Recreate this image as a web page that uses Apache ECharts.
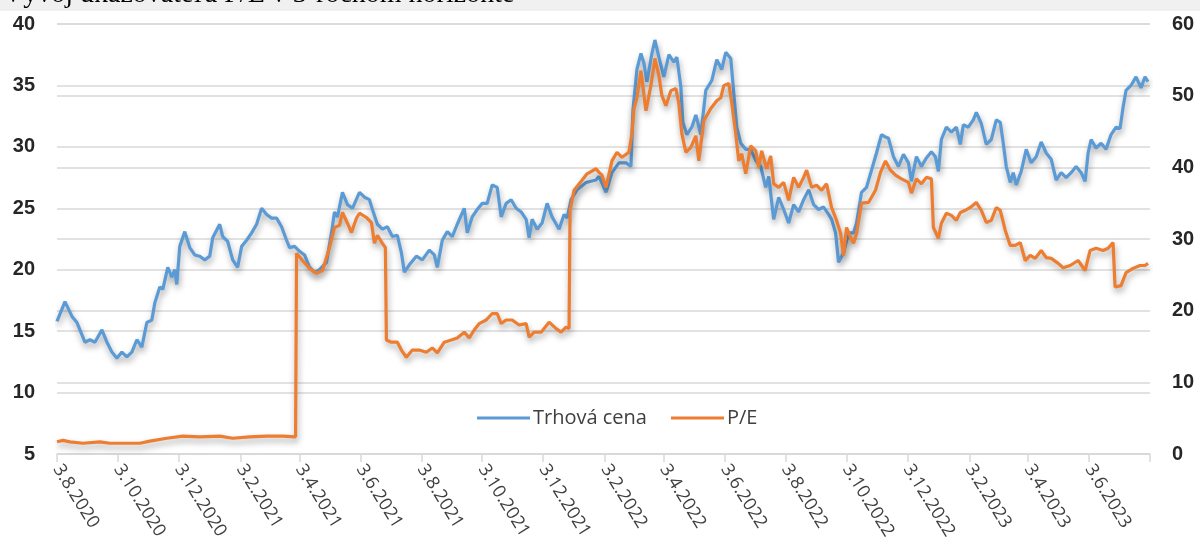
<!DOCTYPE html>
<html>
<head>
<meta charset="utf-8">
<script src="https://cdn.jsdelivr.net/npm/echarts@6/dist/echarts.min.js"></script>
<style>
  html, body { margin: 0; padding: 0; background: #fff; }
  #main { width: 1200px; height: 560px; }
</style>
</head>
<body>
<div id="main"></div>
<script>
// dni od 3.8.2020
var priceDays = [
  0, 8, 15, 20, 28, 33, 38, 45, 50, 55, 60, 65, 70, 75, 80, 85, 90, 95, 98, 103,
  106, 111, 115, 118, 120, 123, 128, 133, 138, 143, 148, 153, 156, 163, 166, 171, 176, 181, 185, 190,
  195, 200, 205, 210, 215, 220, 225, 230, 233, 238, 243, 248, 253, 258, 263, 270, 275, 278, 281, 286,
  291, 296, 303, 308, 313, 316, 321, 326, 331, 336, 341, 345, 348, 353, 360, 366, 373, 378, 381, 386,
  391, 396, 401, 408, 411, 416, 421, 426, 431, 436, 441, 445, 450, 455, 460, 465, 470, 473, 476, 481,
  486, 491, 496, 503, 508, 511, 515, 521, 530, 540, 543, 550, 556, 563, 570, 575, 577, 581, 585, 588,
  591, 596, 599, 603, 608, 613, 618, 621, 625, 627, 631, 636, 640, 645, 650, 656, 661, 666, 670, 675,
  678, 681, 685, 690, 695, 700, 705, 710, 713, 718, 723, 728, 733, 738, 743, 748, 753, 758, 763, 768,
  773, 776, 780, 783, 788, 793, 798, 801, 806, 811, 816, 821, 826, 830, 833, 838, 843, 848, 853, 856,
  861, 866, 871, 876, 880, 883, 886, 891, 896, 901, 905, 908, 913, 918, 921, 926, 931, 936, 941, 945,
  948, 951, 955, 958, 961, 966, 971, 976, 981, 986, 991, 996, 1001, 1006, 1011, 1016, 1021, 1026, 1030, 1033,
  1036, 1041, 1046, 1051, 1056, 1061, 1065, 1068, 1071, 1076, 1081, 1086, 1090, 1093
];
var price = [
  15.8, 17.4, 16.2, 15.7, 14.1, 14.3, 14.1, 15.1, 14.1, 13.3, 12.8, 13.3, 12.9, 13.3, 14.3, 13.7, 15.7, 15.9, 17.3, 18.6,
  18.4, 20.2, 19.4, 20.0, 18.8, 21.9, 23.1, 21.8, 21.2, 21.1, 20.8, 21.1, 22.6, 23.7, 22.7, 22.3, 20.8, 20.2, 21.9, 22.4,
  23.0, 23.7, 25.0, 24.5, 24.2, 24.2, 23.5, 22.4, 21.8, 21.9, 21.5, 21.2, 20.2, 19.8, 20.0, 20.6, 23.0, 24.7, 24.3, 26.3,
  25.3, 25.0, 26.3, 25.9, 25.7, 24.9, 23.7, 23.3, 23.5, 22.7, 22.8, 21.4, 19.8, 20.4, 21.1, 20.8, 21.6, 21.2, 20.2, 22.4,
  23.1, 22.7, 23.7, 25.0, 23.0, 24.3, 24.9, 25.4, 25.4, 26.9, 26.7, 24.3, 25.4, 25.7, 25.0, 24.7, 24.1, 22.6, 24.1, 23.3,
  23.8, 25.4, 24.3, 23.3, 24.5, 24.2, 25.7, 26.5, 27.1, 27.3, 27.6, 26.3, 27.9, 28.7, 28.7, 28.4, 33.0, 36.3, 37.6, 36.8,
  35.3, 37.6, 38.7, 37.3, 35.7, 37.5, 36.9, 37.3, 34.9, 32.0, 31.0, 31.6, 32.6, 31.0, 34.6, 35.4, 37.1, 36.3, 37.7, 37.2,
  34.4, 31.6, 30.3, 29.8, 29.8, 28.9, 28.4, 26.7, 27.6, 24.1, 25.9, 24.9, 23.8, 25.3, 24.7, 25.7, 26.5, 25.3, 24.9, 25.1,
  24.5, 24.1, 23.0, 20.6, 21.4, 23.0, 23.0, 23.8, 26.3, 26.7, 28.1, 29.5, 31.0, 30.8, 30.7, 29.2, 28.4, 29.4, 28.7, 27.2,
  29.2, 28.4, 29.1, 29.6, 29.2, 28.0, 30.6, 31.6, 31.2, 31.6, 30.2, 31.8, 31.6, 32.2, 32.8, 31.9, 30.2, 30.6, 32.2, 32.0,
  30.3, 28.4, 27.1, 27.9, 26.9, 28.0, 29.8, 28.7, 29.2, 30.4, 29.5, 29.0, 27.3, 27.9, 27.5, 27.9, 28.4, 27.9, 27.2, 29.5,
  30.6, 29.9, 30.3, 29.8, 31.0, 31.6, 31.5, 33.2, 34.6, 35.0, 35.7, 34.8, 35.7, 35.3
];

var peDays = [
  0, 6, 13, 26, 43, 53, 83, 93, 110, 126, 143, 163, 176, 193, 210, 226, 239, 240, 246, 253,
  260, 266, 273, 278, 283, 286, 291, 295, 300, 303, 310, 315, 318, 321, 326, 329, 330, 335, 341, 345,
  350, 356, 363, 370, 376, 381, 388, 395, 401, 408, 413, 418, 423, 430, 436, 441, 445, 450, 456, 463,
  470, 473, 478, 485, 493, 500, 505, 510, 513, 514, 518, 526, 531, 540, 543, 546, 550, 556, 561, 566,
  573, 576, 578, 581, 585, 590, 595, 599, 603, 606, 610, 615, 620, 623, 626, 630, 635, 640, 643, 648,
  655, 661, 665, 668, 673, 676, 680, 683, 686, 690, 695, 700, 703, 706, 711, 715, 718, 723, 728, 733,
  738, 743, 748, 751, 756, 761, 766, 771, 776, 781, 785, 788, 791, 795, 798, 801, 806, 813, 820, 825,
  830, 835, 840, 846, 853, 856, 861, 866, 871, 876, 878, 883, 886, 891, 896, 901, 905, 910, 915, 921,
  926, 931, 936, 941, 945, 950, 955, 960, 965, 970, 975, 980, 986, 991, 996, 1003, 1008, 1015, 1023, 1030,
  1035, 1041, 1048, 1053, 1058, 1060, 1066, 1071, 1078, 1085, 1090, 1093
];
var pe = [
  1.7, 1.9, 1.7, 1.5, 1.7, 1.5, 1.5, 1.8, 2.2, 2.5, 2.4, 2.5, 2.2, 2.4, 2.5, 2.5, 2.4, 28.0, 27.0, 25.9,
  25.2, 25.6, 28.8, 31.6, 31.9, 33.7, 32.2, 30.9, 32.9, 33.6, 33.0, 32.3, 29.4, 30.5, 29.4, 28.8, 15.9, 15.6, 15.6, 14.5,
  13.5, 14.5, 14.5, 14.2, 14.8, 14.1, 15.6, 15.9, 16.2, 17.0, 16.2, 17.3, 18.2, 18.7, 19.6, 19.6, 18.2, 18.7, 18.7, 18.0,
  18.2, 16.3, 17.0, 17.0, 18.4, 17.5, 17.0, 17.7, 17.5, 34.0, 36.8, 38.2, 39.1, 39.8, 39.3, 38.9, 37.2, 40.9, 42.1, 41.4,
  42.1, 44.7, 48.2, 49.7, 53.5, 47.9, 51.4, 55.2, 52.8, 50.0, 48.6, 50.7, 51.0, 48.9, 44.7, 42.1, 42.8, 44.4, 40.9, 46.5,
  48.2, 49.3, 49.7, 51.4, 51.7, 49.0, 44.7, 40.9, 41.9, 39.1, 43.0, 42.3, 40.0, 42.3, 39.8, 41.6, 37.7, 37.2, 37.9, 35.4,
  38.6, 37.2, 38.6, 39.6, 37.2, 37.5, 36.8, 37.7, 34.4, 32.6, 30.8, 27.7, 31.6, 30.2, 29.4, 30.8, 35.0, 35.1, 36.8, 39.3,
  40.9, 39.6, 38.9, 38.4, 37.9, 36.4, 38.4, 37.7, 38.6, 38.4, 31.6, 30.1, 32.2, 33.6, 33.3, 32.6, 33.7, 34.0, 34.4, 35.1,
  34.0, 32.3, 32.6, 34.4, 34.0, 31.2, 29.1, 29.1, 29.5, 27.0, 27.7, 27.3, 28.4, 27.4, 27.3, 26.6, 26.0, 26.3, 27.0, 25.6,
  28.4, 28.7, 28.4, 28.7, 29.5, 23.3, 23.5, 25.3, 25.9, 26.3, 26.3, 26.6
];

var tickLabels = [
  '3.8.2020', '3.10.2020', '3.12.2020', '3.2.2021', '3.4.2021', '3.6.2021',
  '3.8.2021', '3.10.2021', '3.12.2021', '3.2.2022', '3.4.2022', '3.6.2022',
  '3.8.2022', '3.10.2022', '3.12.2022', '3.2.2023', '3.4.2023', '3.6.2023', '3.8.2023'
];

// prevod datumu na pocet dni od 3.8.2020
function labelToDay(s) {
  var p = s.split('.');
  var t = Date.UTC(+p[2], +p[1] - 1, +p[0]) - Date.UTC(2020, 7, 3);
  return Math.round(t / 86400000);
}
function pairs(days, vals) {
  return days.map(function (d, i) { return [d, vals[i]]; });
}

var tickDays = tickLabels.map(labelToDay);
var labelDays = tickDays.slice(0, tickDays.length - 1);
var labelByDay = {};
tickDays.forEach(function (d, i) { labelByDay[d] = tickLabels[i]; });

var chart = echarts.init(document.getElementById('main'), null, { renderer: 'canvas' });

var shadow = {
  shadowColor: 'rgba(0,0,0,0.35)',
  shadowBlur: 6,
  shadowOffsetX: 1,
  shadowOffsetY: 4
};

var option = {
  animation: false,
  backgroundColor: '#ffffff',
  title: {
    text: 'Vývoj ukazovateľa P/E v 3-ročnom horizonte',
    left: 3,
    top: -19,
    padding: 0,
    textStyle: {
      fontFamily: 'Liberation Serif',
      fontSize: 28,
      fontWeight: 'normal',
      color: '#000'
    }
  },
  graphic: [{
    type: 'rect',
    z: -10,
    shape: { x: 0, y: 0, width: 1200, height: 11 },
    style: { fill: '#f0f0f0' }
  }],
  legend: {
    left: 472,
    top: 403,
    icon: 'rect',
    itemWidth: 53,
    itemHeight: 3,
    itemGap: 24,
    textStyle: {
      fontFamily: 'Open Sans',
      fontSize: 20,
      color: '#404040',
      padding: [0, 0, 0, -2]
    },
    data: ['Trhová cena', 'P/E']
  },
  grid: {
    left: 57,
    right: 50,
    top: 24,
    bottom: 106
  },
  xAxis: {
    type: 'value',
    min: tickDays[0],
    max: tickDays[tickDays.length - 1],
    axisLine: { lineStyle: { color: '#d9d9d9', width: 1.5 } },
    axisTick: {
      show: true,
      length: 8,
      customValues: tickDays,
      lineStyle: { color: '#d9d9d9', width: 1.5 }
    },
    axisLabel: {
      customValues: labelDays,
      rotate: -58,
      margin: 12,
      fontFamily: 'Open Sans',
      fontSize: 18,
      color: '#404040',
      formatter: function (v) {
        return labelByDay[Math.round(v)] || '';
      }
    },
    splitLine: { show: false }
  },
  yAxis: [{
    type: 'value',
    min: 5,
    max: 40,
    interval: 5,
    axisLine: { show: false },
    axisTick: { show: false },
    axisLabel: {
      margin: 22,
      fontFamily: 'Liberation Sans',
      fontWeight: 'bold',
      fontSize: 20,
      color: '#262626'
    },
    splitLine: { lineStyle: { color: '#d9d9d9', width: 1.5 } }
  }, {
    type: 'value',
    min: 0,
    max: 60,
    interval: 10,
    axisLine: { show: false },
    axisTick: { show: false },
    axisLabel: {
      margin: 22,
      fontFamily: 'Liberation Sans',
      fontWeight: 'bold',
      fontSize: 20,
      color: '#262626'
    },
    splitLine: { lineStyle: { color: '#d9d9d9', width: 1.5 } }
  }],
  series: [{
    name: 'Trhová cena',
    type: 'line',
    yAxisIndex: 0,
    symbol: 'none',
    color: '#5b9bd5',
    lineStyle: Object.assign({ width: 3.2, color: '#5b9bd5' }, shadow),
    data: pairs(priceDays, price)
  }, {
    name: 'P/E',
    type: 'line',
    yAxisIndex: 1,
    symbol: 'none',
    color: '#ed7d31',
    lineStyle: Object.assign({ width: 3.2, color: '#ed7d31' }, shadow),
    data: pairs(peDays, pe)
  }]
};

chart.setOption(option);
</script>
</body>
</html>
